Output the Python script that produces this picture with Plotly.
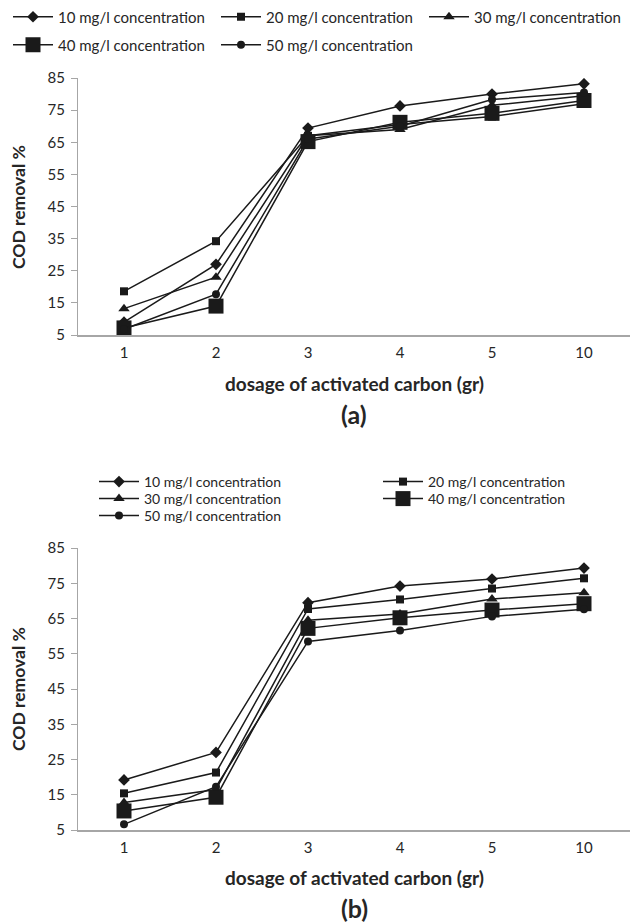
import plotly.graph_objects as go

categories = ["1", "2", "3", "4", "5", "10"]
series_names = ["10 mg/l concentration", "20 mg/l concentration", "30 mg/l concentration",
                "40 mg/l concentration", "50 mg/l concentration"]

# Panel (a)
a_10 = [9.0, 27.0, 69.4, 76.3, 80.0, 83.2]
a_20 = [18.6, 34.2, 67.0, 70.5, 73.0, 77.0]
a_30 = [13.2, 23.0, 67.0, 69.0, 76.5, 79.5]
a_40 = [7.2, 14.0, 65.2, 71.2, 74.0, 78.0]
a_50 = [6.8, 17.7, 66.0, 70.0, 78.3, 80.5]

# Panel (b)
b_10 = [19.2, 27.0, 69.5, 74.2, 76.2, 79.3]
b_20 = [15.4, 21.3, 67.7, 70.4, 73.5, 76.4]
b_30 = [12.8, 16.5, 64.5, 66.3, 70.5, 72.3]
b_40 = [10.4, 14.3, 62.2, 65.2, 67.4, 69.2]
b_50 = [6.6, 17.3, 58.5, 61.6, 65.6, 67.6]

y_ticks = [5, 15, 25, 35, 45, 55, 65, 75, 85]

symbols = ["diamond", "square", "triangle-up", "square", "circle"]
sizes = [9, 8, 10, 15, 8]

FONT = "Lato"
TXT = "#262626"
AX = "#a6a6a6"

W, H = 631, 924
def px_x(x):
    return x / W
def px_y(y):
    return 1 - y / H

# legend slot positions (pixel) for each series: top panel and bottom panel
top_slots = [(12, 17), (220, 17), (428, 17), (12, 45), (220, 45)]
bot_slots = [(98, 482), (382, 482), (98, 499), (382, 499), (98, 516)]

fig = go.Figure()

a_data = [a_10, a_20, a_30, a_40, a_50]
b_data = [b_10, b_20, b_30, b_40, b_50]

for i in range(5):
    fig.add_trace(go.Scatter(
        x=categories, y=a_data[i], name=series_names[i], mode="lines+markers",
        line=dict(color="#1a1a1a", width=1.5),
        marker=dict(symbol=symbols[i], size=sizes[i], color="#1a1a1a"),
        xaxis="x", yaxis="y", legend="legend" if i == 0 else f"legend{i + 1}"))
for i in range(5):
    fig.add_trace(go.Scatter(
        x=categories, y=b_data[i], name=series_names[i], mode="lines+markers",
        line=dict(color="#1a1a1a", width=1.5),
        marker=dict(symbol=symbols[i], size=sizes[i], color="#1a1a1a"),
        xaxis="x2", yaxis="y2", legend=f"legend{i + 6}"))

axis_common_x = dict(type="category", range=[-0.5, 5.5], showline=True, linecolor=AX, linewidth=2,
                     ticks="", showgrid=False, zeroline=False, automargin=False,
                     ticklabelstandoff=3,
                     tickfont=dict(family=FONT, size=15, color=TXT))
axis_common_y = dict(range=[5, 85], tickvals=y_ticks, showline=True, linecolor=AX, linewidth=1,
                     ticks="outside", ticklen=6, tickcolor=AX, showgrid=False, zeroline=False,
                     automargin=False, ticklabelstandoff=3,
                     tickfont=dict(family=FONT, size=15, color=TXT))

def leg(px, py, size):
    return dict(orientation="h", x=px_x(px - 4), y=px_y(py), xanchor="left", yanchor="middle",
                font=dict(family=FONT, size=size, color=TXT),
                itemwidth=40, bgcolor="rgba(0,0,0,0)", itemsizing="trace")

legends = {}
for i, (px, py) in enumerate(top_slots):
    legends["legend" if i == 0 else f"legend{i + 1}"] = leg(px, py, 15)
for i, (px, py) in enumerate(bot_slots):
    legends[f"legend{i + 6}"] = leg(px, py, 14)

fig.update_layout(
    width=W, height=H, margin=dict(l=0, r=0, t=0, b=0),
    paper_bgcolor="white", plot_bgcolor="white",
    xaxis=dict(domain=[px_x(78), px_x(630)], anchor="y", **axis_common_x),
    yaxis=dict(domain=[px_y(335), px_y(78)], anchor="x", **axis_common_y),
    xaxis2=dict(domain=[px_x(78), px_x(630)], anchor="y2", **axis_common_x),
    yaxis2=dict(domain=[px_y(830), px_y(548)], anchor="x2", **axis_common_y),
    showlegend=True,
    **legends,
)

ann = [
    dict(text="<b>COD removal %</b>", x=px_x(18), y=px_y(207), textangle=-90, font=dict(size=17.5)),
    dict(text="<b>dosage of activated carbon (gr)</b>", x=px_x(354), y=px_y(383), font=dict(size=19)),
    dict(text="<b>(a)</b>", x=px_x(354), y=px_y(414), font=dict(size=25)),
    dict(text="<b>COD removal %</b>", x=px_x(18), y=px_y(689), textangle=-90, font=dict(size=17.5)),
    dict(text="<b>dosage of activated carbon (gr)</b>", x=px_x(354), y=px_y(877), font=dict(size=19)),
    dict(text="<b>(b)</b>", x=px_x(354), y=px_y(908), font=dict(size=25)),
]
for a in ann:
    a["font"].update(family=FONT, color=TXT)
    fig.add_annotation(xref="paper", yref="paper", showarrow=False, xanchor="center", yanchor="middle", **a)

fig.write_html("out.html")
